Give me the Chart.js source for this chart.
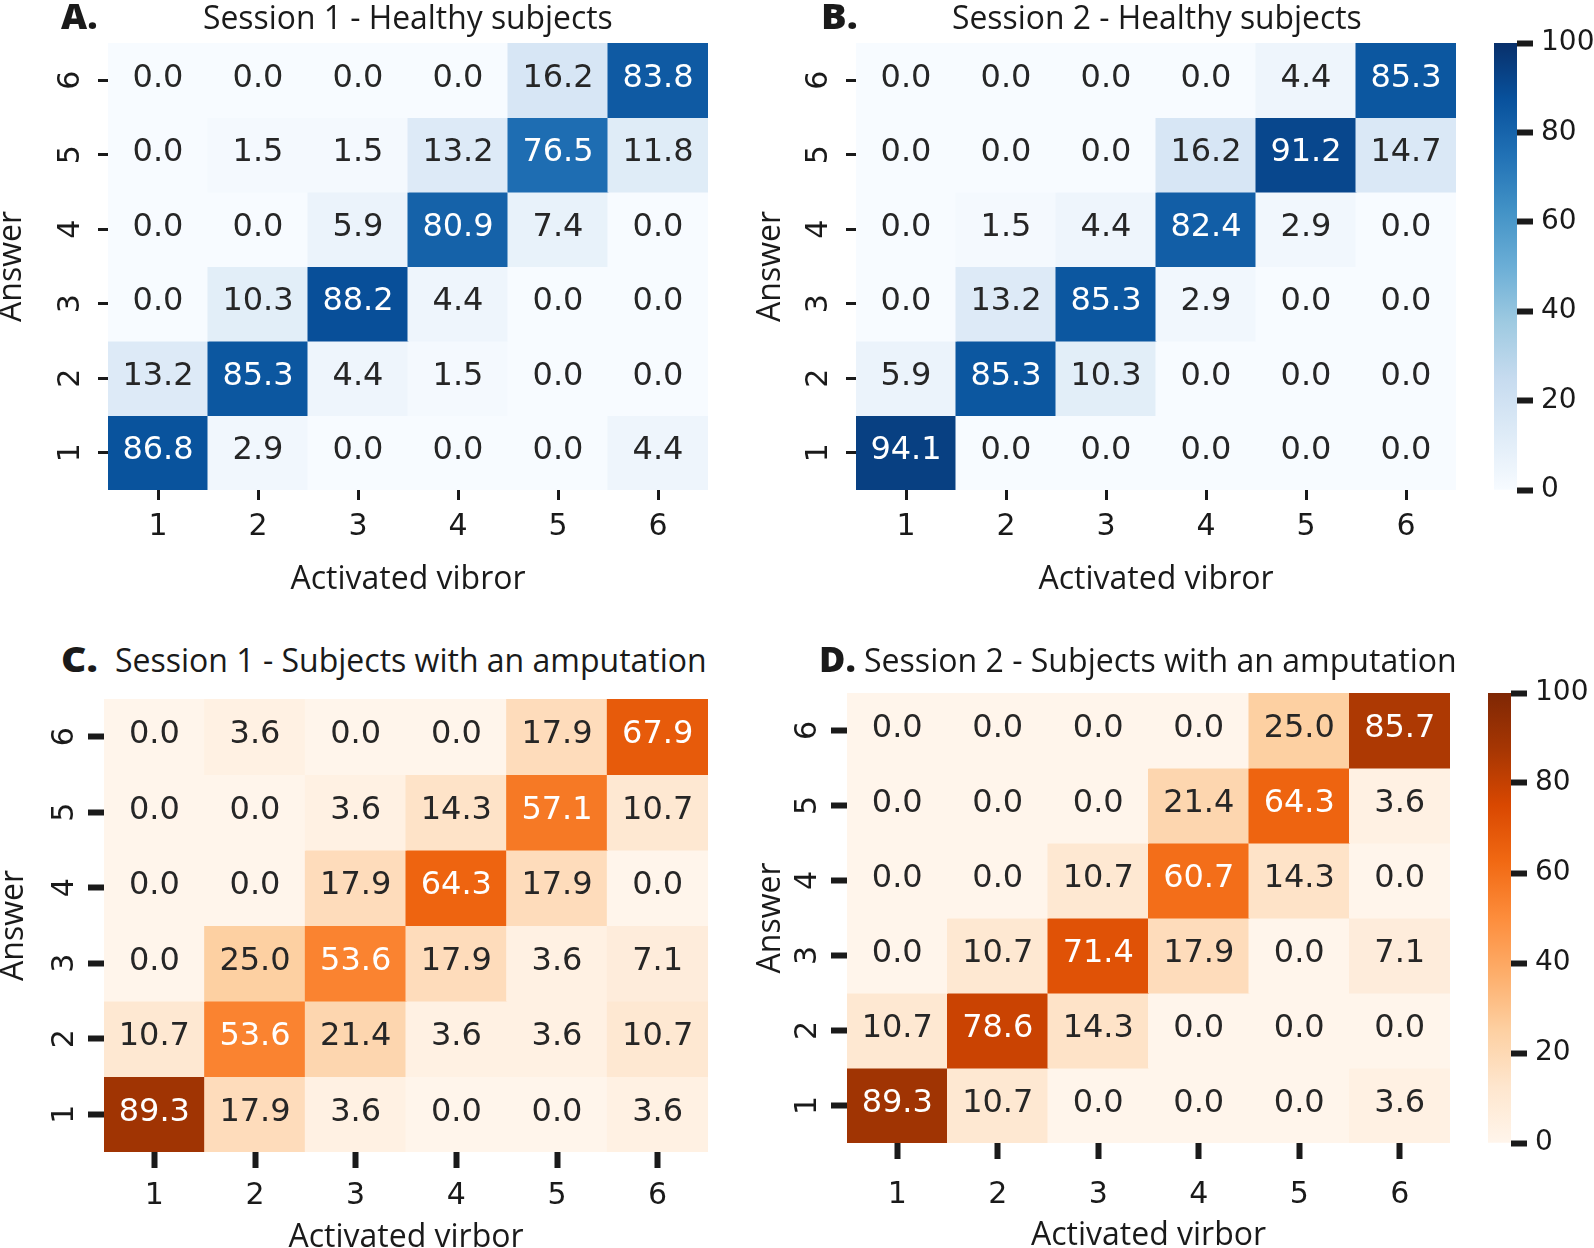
<!DOCTYPE html>
<html>
<head>
<meta charset="utf-8">
<script src="https://cdn.jsdelivr.net/npm/chart.js@4.4.1/dist/chart.umd.min.js"></script>
<style>
  html, body { margin: 0; padding: 0; background: #fff; width: 1594px; height: 1248px; overflow: hidden; }
  .box { position: absolute; }
  .ttl { position: absolute; font-family: 'Open Sans', sans-serif; font-size: 32px; line-height: 32px;
         white-space: nowrap; color: #1a1a1a; transform-origin: 0 0; }
  .tag { font-weight: 800; font-size: 36px; line-height: 36px; }
</style>
</head>
<body>
<script>
// ---- data ----
const vibrors = ['1', '2', '3', '4', '5', '6'];
const answers = [6, 5, 4, 3, 2, 1];          // rows, top to bottom
const colorbarTicks = [0, 20, 40, 60, 80, 100];

const healthyS1 = [
  [0.0, 0.0, 0.0, 0.0, 16.2, 83.8],
  [0.0, 1.5, 1.5, 13.2, 76.5, 11.8],
  [0.0, 0.0, 5.9, 80.9, 7.4, 0.0],
  [0.0, 10.3, 88.2, 4.4, 0.0, 0.0],
  [13.2, 85.3, 4.4, 1.5, 0.0, 0.0],
  [86.8, 2.9, 0.0, 0.0, 0.0, 4.4]
];
const healthyS2 = [
  [0.0, 0.0, 0.0, 0.0, 4.4, 85.3],
  [0.0, 0.0, 0.0, 16.2, 91.2, 14.7],
  [0.0, 1.5, 4.4, 82.4, 2.9, 0.0],
  [0.0, 13.2, 85.3, 2.9, 0.0, 0.0],
  [5.9, 85.3, 10.3, 0.0, 0.0, 0.0],
  [94.1, 0.0, 0.0, 0.0, 0.0, 0.0]
];
const amputS1 = [
  [0.0, 3.6, 0.0, 0.0, 17.9, 67.9],
  [0.0, 0.0, 3.6, 14.3, 57.1, 10.7],
  [0.0, 0.0, 17.9, 64.3, 17.9, 0.0],
  [0.0, 25.0, 53.6, 17.9, 3.6, 7.1],
  [10.7, 53.6, 21.4, 3.6, 3.6, 10.7],
  [89.3, 17.9, 3.6, 0.0, 0.0, 3.6]
];
const amputS2 = [
  [0.0, 0.0, 0.0, 0.0, 25.0, 85.7],
  [0.0, 0.0, 0.0, 21.4, 64.3, 3.6],
  [0.0, 0.0, 10.7, 60.7, 14.3, 0.0],
  [0.0, 10.7, 71.4, 17.9, 0.0, 7.1],
  [10.7, 78.6, 14.3, 0.0, 0.0, 0.0],
  [89.3, 10.7, 0.0, 0.0, 0.0, 3.6]
];

// matplotlib Blues / Oranges
const blues = ['#f7fbff', '#deebf7', '#c6dbef', '#9ecae1', '#6baed6', '#4292c6', '#2171b5', '#08519c', '#08306b'];
const oranges = ['#fff5eb', '#fee6ce', '#fdd0a2', '#fdae6b', '#fd8d3c', '#f16913', '#d94801', '#a63603', '#7f2704'];

const ink = '#1a1a1a';
Chart.defaults.font.family = 'DejaVu Sans';

function hexRgb(h) { return [1, 3, 5].map(i => parseInt(h.substr(i, 2), 16)); }
function cmapRgb(v, stops) {
  const t = Math.min(Math.max(v / 100, 0), 1) * (stops.length - 1);
  const i = Math.min(Math.floor(t), stops.length - 2);
  const f = t - i;
  const a = hexRgb(stops[i]), b = hexRgb(stops[i + 1]);
  return a.map((x, k) => Math.round(x + (b[k] - x) * f));
}
function cellColor(v, stops) { return 'rgb(' + cmapRgb(v, stops).join(',') + ')'; }
function textColor(v, stops) {
  const lin = cmapRgb(v, stops).map(c => { c /= 255; return c <= 0.03928 ? c / 12.92 : Math.pow((c + 0.055) / 1.055, 2.4); });
  const lum = 0.2126 * lin[0] + 0.7152 * lin[1] + 0.0722 * lin[2];
  return lum > 0.408 ? '#262626' : '#ffffff';
}

const cellLabels = {
  id: 'cellLabels',
  afterDatasetsDraw(chart) {
    const ctx = chart.ctx;
    const stops = chart.options.plugins.cellLabels.stops;
    ctx.save();
    ctx.font = '32px "DejaVu Sans"';
    ctx.textAlign = 'center';
    ctx.textBaseline = 'middle';
    chart.data.datasets.forEach((ds, i) => {
      chart.getDatasetMeta(i).data.forEach((bar, j) => {
        const v = ds.data[j].v;
        const p = bar.getCenterPoint();
        ctx.fillStyle = textColor(v, stops);
        ctx.fillText(v.toFixed(1), p.x, p.y - 2);
      });
    });
    ctx.restore();
  }
};

function addBox(left, top, w, h) {
  const d = document.createElement('div');
  d.className = 'box';
  d.style.cssText = `left:${left}px;top:${top}px;width:${w}px;height:${h}px`;
  const c = document.createElement('canvas');
  d.appendChild(c);
  document.body.appendChild(d);
  return c;
}
function noPad(s) { s.paddingTop = 0; s.paddingBottom = 0; s.paddingLeft = 0; s.paddingRight = 0; }

const panels = [
  {data: healthyS1, cmap: blues, xTitle: 'Activated vibror', L: 108, T: 43, R: 708, B: 490, ansX: 12.5, xTitleY: 580, tl: 10, tw: 3, yDist: 37, xDist: 37},
  {data: healthyS2, cmap: blues, xTitle: 'Activated vibror', L: 856, T: 43, R: 1456, B: 490, ansX: 771, xTitleY: 580, tl: 10, tw: 3, yDist: 37, xDist: 37},
  {data: amputS1, cmap: oranges, xTitle: 'Activated virbor', L: 104, T: 699, R: 708, B: 1152, ansX: 14, xTitleY: 1238, tl: 16, tw: 6, yDist: 39, xDist: 44},
  {data: amputS2, cmap: oranges, xTitle: 'Activated virbor', L: 847, T: 693, R: 1450, B: 1143, ansX: 771, xTitleY: 1236, tl: 16, tw: 6, yDist: 39, xDist: 52}
];

const titleFont = {family: 'Open Sans', size: 32, lineHeight: 1.2};
const halfLH = 32 * 1.2 / 2;

panels.forEach(p => {
  const padTop = 12, padRight = 12;
  const cx = Math.round(p.ansX - halfLH);
  const cy = p.T - padTop;
  const cw = p.R + padRight - cx;
  const ch = Math.round(p.xTitleY + halfLH) - cy;
  const yW = p.L - cx;
  const xH = ch - padTop - (p.B - p.T);
  const canvas = addBox(cx, cy, cw, ch);
  const digitHalf = 30 * 0.636 / 2;

  new Chart(canvas, {
    type: 'bar',
    data: {
      labels: vibrors,
      datasets: p.data.map((row, r) => ({
        data: row.map((v, c) => ({x: vibrors[c], y: [answers[r] - 0.5, answers[r] + 0.5], v: v})),
        backgroundColor: row.map(v => cellColor(v, p.cmap)),
        grouped: false,
        barPercentage: 1,
        categoryPercentage: 1,
        borderWidth: 0,
        inflateAmount: 0.5
      }))
    },
    options: {
      animation: false,
      responsive: true,
      maintainAspectRatio: false,
      events: [],
      layout: {padding: {top: padTop, right: padRight, left: 0, bottom: 0}},
      plugins: {legend: {display: false}, tooltip: {enabled: false}, cellLabels: {stops: p.cmap}},
      scales: {
        x: {
          afterFit: s => { s.height = xH; noPad(s); },
          grid: {offset: false, drawOnChartArea: false, tickLength: p.tl, tickWidth: p.tw, tickColor: ink},
          border: {display: false},
          ticks: {font: {size: 30}, color: ink, padding: p.xDist - p.tl - 18},
          title: {display: true, text: p.xTitle, font: titleFont, color: ink, padding: 0}
        },
        y: {
          min: 0.5,
          max: 6.5,
          afterBuildTicks: s => { s.ticks = answers.map(v => ({value: v})); },
          afterFit: s => { s.width = yW; noPad(s); },
          grid: {drawOnChartArea: false, tickLength: p.tl, tickWidth: p.tw, tickColor: ink},
          border: {display: false},
          ticks: {font: {size: 30}, color: ink, minRotation: 90, maxRotation: 90, crossAlign: 'center',
                  padding: p.yDist - p.tl - digitHalf},
          title: {display: true, text: 'Answer', font: titleFont, color: ink, padding: 0}
        }
      }
    },
    plugins: [cellLabels]
  });
});

// colorbars
const colorbars = [
  {cmap: blues, L: 1494, R: 1517, T: 43, B: 490},
  {cmap: oranges, L: 1488, R: 1511, T: 693, B: 1143}
];
colorbars.forEach(cb => {
  const pad = 20, axisW = 90;
  const canvas = addBox(cb.L, cb.T - pad, (cb.R - cb.L) + axisW, (cb.B - cb.T) + 2 * pad);
  new Chart(canvas, {
    type: 'bar',
    data: {
      labels: [''],
      datasets: [{
        data: [[0, 100]],
        backgroundColor: c => {
          const a = c.chart.chartArea;
          if (!a) return cb.cmap[0];
          const g = c.chart.ctx.createLinearGradient(0, a.bottom, 0, a.top);
          cb.cmap.forEach((s, i) => g.addColorStop(i / (cb.cmap.length - 1), s));
          return g;
        },
        barPercentage: 1,
        categoryPercentage: 1,
        borderWidth: 0
      }]
    },
    options: {
      animation: false,
      responsive: true,
      maintainAspectRatio: false,
      events: [],
      layout: {padding: {top: pad, bottom: pad, left: 0, right: 0}},
      plugins: {legend: {display: false}, tooltip: {enabled: false}},
      scales: {
        x: {display: false},
        y: {
          position: 'right',
          min: 0,
          max: 100,
          afterBuildTicks: s => { s.ticks = colorbarTicks.map(v => ({value: v})); },
          afterFit: s => { s.width = axisW; noPad(s); },
          grid: {drawOnChartArea: false, tickLength: 16, tickWidth: 6, tickColor: ink},
          border: {display: false},
          ticks: {font: {size: 28}, color: ink, padding: 8}
        }
      }
    }
  });
});

// panel titles
const titles = [
  {tag: 'A.', text: 'Session 1 - Healthy subjects', tagX: 61, textX: 203, textW: 410, top: 1},
  {tag: 'B.', text: 'Session 2 - Healthy subjects', tagX: 821, textX: 952, textW: 410, top: 1},
  {tag: 'C.', text: 'Session 1 - Subjects with an amputation', tagX: 61, textX: 115, textW: 592, top: 644},
  {tag: 'D.', text: 'Session 2 - Subjects with an amputation', tagX: 819, textX: 864, textW: 593, top: 644}
];
titles.forEach(t => {
  const a = document.createElement('div');
  a.className = 'ttl tag';
  a.style.left = t.tagX + 'px';
  a.style.top = (t.top - 3) + 'px';
  a.textContent = t.tag;
  document.body.appendChild(a);
  a.style.transform = 'scaleX(' + (37 / a.offsetWidth) + ')';
  const b = document.createElement('div');
  b.className = 'ttl';
  b.style.left = t.textX + 'px';
  b.style.top = t.top + 'px';
  b.textContent = t.text;
  document.body.appendChild(b);
  b.style.transform = 'scaleX(' + (t.textW / b.offsetWidth) + ')';
});
</script>
</body>
</html>
